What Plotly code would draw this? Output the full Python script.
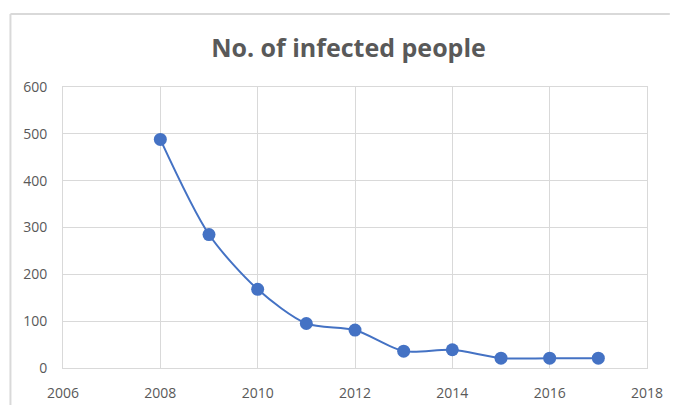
import plotly.graph_objects as go

# Yearly count of infected people
years = [2008, 2009, 2010, 2011, 2012, 2013, 2014, 2015, 2016, 2017]
infected = [488, 285, 168, 95, 81, 36, 39, 21, 21, 21]

x_ticks = [2006, 2008, 2010, 2012, 2014, 2016, 2018]
y_ticks = [0, 100, 200, 300, 400, 500, 600]

BLUE = "#4472C4"
GRID = "#d9d9d9"
TEXT = "#595959"

fig = go.Figure()
fig.add_trace(go.Scatter(
    x=years, y=infected,
    mode="lines+markers",
    line=dict(color=BLUE, width=2, shape="spline", smoothing=0.8),
    marker=dict(color=BLUE, size=13, line=dict(width=0)),
    hoverinfo="x+y",
    showlegend=False,
))

W, H = 675, 414
L, R, T, B = 63, 23, 87, 38
pw, ph = W - L - R, H - T - B

# chart-area frame: left and top edges, running off the right and bottom
fx0 = (10 - L) / pw
fx1 = (W - L) / pw
fy1 = (H - B - 12) / ph
fy0 = -B / ph
frame = dict(color=GRID, width=2)
fig.add_shape(type="line", xref="paper", yref="paper",
              x0=fx0, x1=fx0, y0=fy0, y1=fy1, line=frame, layer="below")
fig.add_shape(type="line", xref="paper", yref="paper",
              x0=fx0, x1=fx1, y0=fy1, y1=fy1, line=frame, layer="below")

fig.update_layout(
    width=W, height=H,
    margin=dict(l=L, r=R, t=T, b=B),
    paper_bgcolor="white", plot_bgcolor="white",
    font=dict(family="Open Sans, sans-serif", color=TEXT, size=14),
    title=dict(text="<b>No. of infected people</b>",
               x=(212 + 485) / 2 / W, xanchor="center",
               y=1 - 48 / H, yanchor="middle", yref="container",
               font=dict(size=25, color=TEXT, family="Open Sans, sans-serif")),
    xaxis=dict(range=[2006, 2018], tickvals=x_ticks, ticktext=[str(v) for v in x_ticks],
               showgrid=True, gridcolor=GRID, gridwidth=1,
               showline=True, linecolor=GRID, linewidth=1, mirror=True,
               zeroline=False, ticks="", ticklabelstandoff=12,
               tickfont=dict(size=14, color=TEXT)),
    yaxis=dict(range=[0, 600], tickvals=y_ticks,
               showgrid=True, gridcolor=GRID, gridwidth=1,
               showline=True, linecolor=GRID, linewidth=1, mirror=True,
               zeroline=False, ticks="", ticklabelstandoff=12,
               tickfont=dict(size=14, color=TEXT)),
)

fig.write_html("out.html")
